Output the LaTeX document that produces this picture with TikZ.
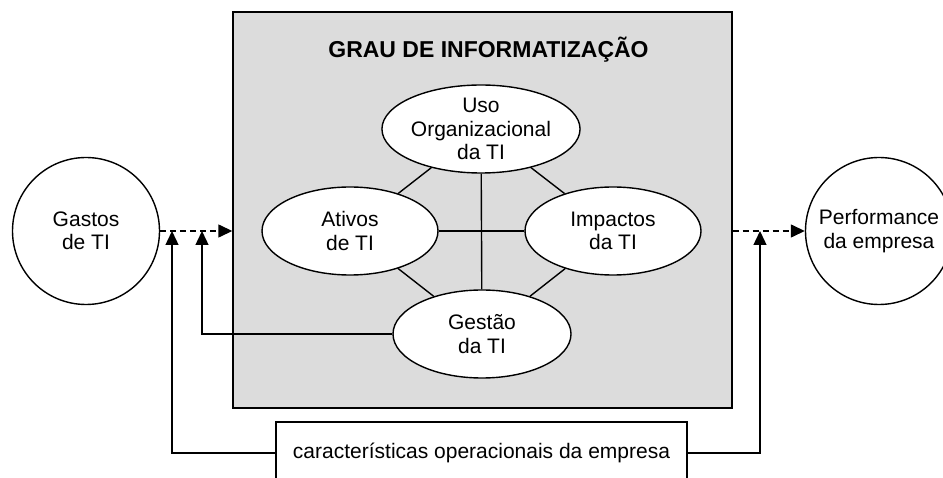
\documentclass[tikz,border=0pt]{standalone}
\usepackage{fontspec}
\setmainfont{Liberation Sans}
\usetikzlibrary{shapes.geometric, arrows.meta}
\usetikzlibrary{positioning}
\definecolor{cinza}{RGB}{220,220,220}
\tikzstyle{elipse} = [ellipse, minimum width=176pt, minimum height=88pt, inner sep=0pt, align=center, draw=black, fill=white]
\tikzstyle{circulo} = [circle, minimum size=147pt, inner sep=0pt, align=center, draw=black, fill=white]
\tikzstyle{caixa} = [rectangle, draw=black, fill=white, inner sep=0pt]
\tikzstyle{arrow} = [-{Triangle[length=14pt,width=13pt]}]
\tikzstyle{dasharrow} = [arrow, dash pattern=on 6pt off 4pt]

\begin{document}
\begin{tikzpicture}[x=1pt, y=-1pt, line width=1.4pt,
                    every node/.style={font=\fontsize{21}{23.5}\selectfont}]
 \useasboundingbox (0,0) rectangle (943,478);
 \clip (0,0) rectangle (943,478);
 \node[caixa,fill=cinza, minimum width=499pt, minimum height=396pt] (grau) at (482.5,210) {};
 \node[font=\fontsize{23}{26}\bfseries] (titulo) at (grau) [xshift=6pt,yshift=160pt]
              {GRAU DE INFORMATIZAÇÃO};
 \node[elipse, minimum width=171pt] (uso) at (grau) [xshift=-1.5pt,yshift=81pt]
              {Uso\\Organizacional\\da TI};
 \node[elipse] (ativos) at (uso) [xshift=-131pt,yshift=-102pt]
              {Ativos\\de TI};
 \node[elipse] (impactos) at (uso) [xshift=132pt,yshift=-102pt]
              {Impactos\\da TI};
 \node[elipse, minimum width=178pt] (gestao) at (uso) [xshift=1pt,yshift=-205pt]
              {Gestão\\da TI};
 \node[circulo] (gastos) at (ativos) [xshift=-264pt,yshift=0pt]
              {Gastos\\de TI};
 \node[circulo] (perf) at (impactos) [xshift=266pt,yshift=0pt]
              {Performance\\da empresa};
 \node[caixa, minimum width=411pt, minimum height=62pt] (carac) at (gestao) [xshift=-0.5pt,yshift=-119pt]
              {características operacionais da empresa};
% ligações internas
 \draw (uso) -- (ativos);
 \draw (uso) -- (impactos);
 \draw (gestao) -- (ativos);
 \draw (gestao) -- (impactos);
 \draw (uso) -- (gestao);
 \draw (ativos) -- (impactos);
% setas
 \coordinate (ja) at (172,231);
 \coordinate (jb) at (202,231);
 \coordinate (jc) at (760,231);
 \draw[dasharrow] (gastos) -- (gastos -| grau.west);
 \draw[dasharrow] (grau.east |- perf) -- (perf);
 \draw[arrow] (carac.west) -| (ja);
 \draw[arrow] (gestao.west) -| (jb);
 \draw[arrow] (carac.east) -| (jc);
\end{tikzpicture}
\end{document}
